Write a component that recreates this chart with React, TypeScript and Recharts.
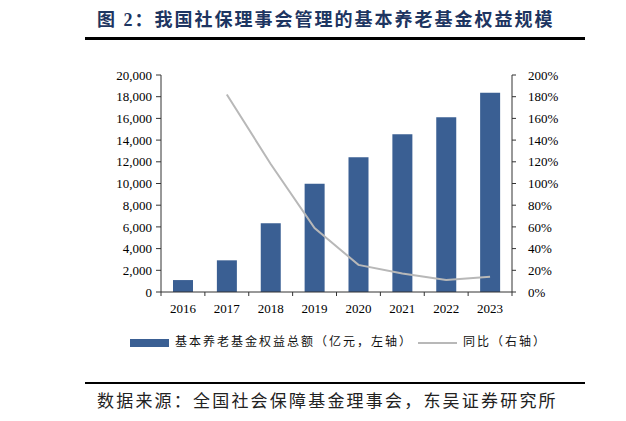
import React from "react";
import { ComposedChart, Bar, Line, XAxis, YAxis, Legend } from "recharts";

const years = ["2016", "2017", "2018", "2019", "2020", "2021", "2022", "2023"];
const equity = [1100, 2920, 6330, 9980, 12410, 14530, 16100, 18370];
const yoy: (number | null)[] = [null, 182, 118, 59, 25, 17, 11, 14];
const leftTicks = [0, 2000, 4000, 6000, 8000, 10000, 12000, 14000, 16000, 18000, 20000];
const rightTicks = [0, 20, 40, 60, 80, 100, 120, 140, 160, 180, 200];

const TITLE = "图 2：我国社保理事会管理的基本养老基金权益规模";
const SOURCE = "数据来源：全国社会保障基金理事会，东吴证券研究所";
const BAR_NAME = "基本养老基金权益总额（亿元，左轴）";
const LINE_NAME = "同比（右轴）";

const data = years.map((y, i) => ({ year: y, equity: equity[i], yoy: yoy[i] }));

const BAR_COLOR = "#3a5f93";
const LINE_COLOR = "#b8b8b8";
const SERIF = "'Liberation Serif', 'Times New Roman', serif";
const CJK = "'Liberation Serif', 'Noto Sans CJK SC', serif";

const BAND = 351 / years.length;

const XTick = (props: any) => {
  const { x, y, payload, index } = props;
  const axisY = y - 12;
  return (
    <g>
      <line x1={x - BAND / 2} y1={axisY} x2={x - BAND / 2} y2={axisY + 4} stroke="#333" strokeWidth={1} />
      {index === years.length - 1 && (
        <line x1={x + BAND / 2} y1={axisY} x2={x + BAND / 2} y2={axisY + 4} stroke="#333" strokeWidth={1} />
      )}
      <text x={x} y={axisY + 21} textAnchor="middle" fontSize={13} fontFamily={SERIF} fill="#000">
        {payload.value}
      </text>
    </g>
  );
};

const LegendContent = () => (
  <div style={{ position: "relative", height: 20, width: 626, fontFamily: CJK, fontSize: 12, color: "#111" }}>
    <div style={{ position: "absolute", left: 130, top: 7, width: 39, height: 8, background: BAR_COLOR }} />
    <div style={{ position: "absolute", left: 175, top: 2, lineHeight: "16px", letterSpacing: 2, whiteSpace: "nowrap" }}>
      {BAR_NAME}
    </div>
    <div style={{ position: "absolute", left: 418, top: 10, width: 39, height: 2, background: LINE_COLOR }} />
    <div style={{ position: "absolute", left: 463, top: 2, lineHeight: "16px", letterSpacing: 2, whiteSpace: "nowrap" }}>
      {LINE_NAME}
    </div>
  </div>
);

export default function App() {
  return (
    <div style={{ position: "absolute", left: 0, top: 0, width: 626, height: 421, background: "#fff", overflow: "hidden" }}>
      <div
        style={{
          position: "absolute",
          left: 97,
          top: 8,
          fontFamily: CJK,
          fontSize: 18,
          fontWeight: "bold",
          letterSpacing: 2,
          color: "#1d3561",
          whiteSpace: "nowrap",
          lineHeight: "24px",
        }}
      >
        {TITLE}
      </div>
      <div style={{ position: "absolute", left: 85, top: 37, width: 500, height: 2.5, background: "#000" }} />

      <div style={{ position: "absolute", left: 0, top: 0 }}>
        <ComposedChart width={626} height={352} data={data} margin={{ top: 75, right: 0, left: 0, bottom: 0 }}>
          <XAxis
            dataKey="year"
            xAxisId="x"
            height={40}
            tickLine={false}
            tickSize={4}
            tickMargin={8}
            axisLine={{ stroke: "#333", strokeWidth: 1 }}
            tick={<XTick />}
            interval={0}
          />
          <YAxis
            yAxisId="left"
            width={161}
            domain={[0, 20000]}
            ticks={leftTicks}
            tickFormatter={(v: number) => v.toLocaleString("en-US")}
            tick={{ fontSize: 13, fontFamily: SERIF, fill: "#000" }}
            tickSize={5}
            tickMargin={4}
            tickLine={{ stroke: "#333" }}
            axisLine={{ stroke: "#333" }}
            interval={0}
          />
          <YAxis
            yAxisId="right"
            orientation="right"
            width={114}
            domain={[0, 200]}
            ticks={rightTicks}
            tickFormatter={(v: number) => `${v}%`}
            tick={{ fontSize: 13, fontFamily: SERIF, fill: "#000", textAnchor: "start" }}
            tickSize={4}
            tickMargin={12}
            tickLine={{ stroke: "#333" }}
            axisLine={{ stroke: "#333" }}
            interval={0}
          />
          <Legend verticalAlign="bottom" align="left" height={20} content={<LegendContent />} wrapperStyle={{ left: 0, height: 20 }} />
          <Bar
            xAxisId="x"
            yAxisId="left"
            dataKey="equity"
            name={BAR_NAME}
            fill={BAR_COLOR}
            barSize={20}
            isAnimationActive={false}
          />
          <Line
            xAxisId="x"
            yAxisId="right"
            dataKey="yoy"
            name={LINE_NAME}
            stroke={LINE_COLOR}
            strokeWidth={2}
            dot={false}
            activeDot={false}
            connectNulls={false}
            isAnimationActive={false}
          />
        </ComposedChart>
      </div>

      <div style={{ position: "absolute", left: 85, top: 382, width: 500, height: 2, background: "#000" }} />
      <div
        style={{
          position: "absolute",
          left: 97,
          top: 391,
          fontFamily: CJK,
          fontSize: 17,
          letterSpacing: 2.2,
          color: "#222",
          whiteSpace: "nowrap",
          lineHeight: "22px",
        }}
      >
        {SOURCE}
      </div>
    </div>
  );
}
